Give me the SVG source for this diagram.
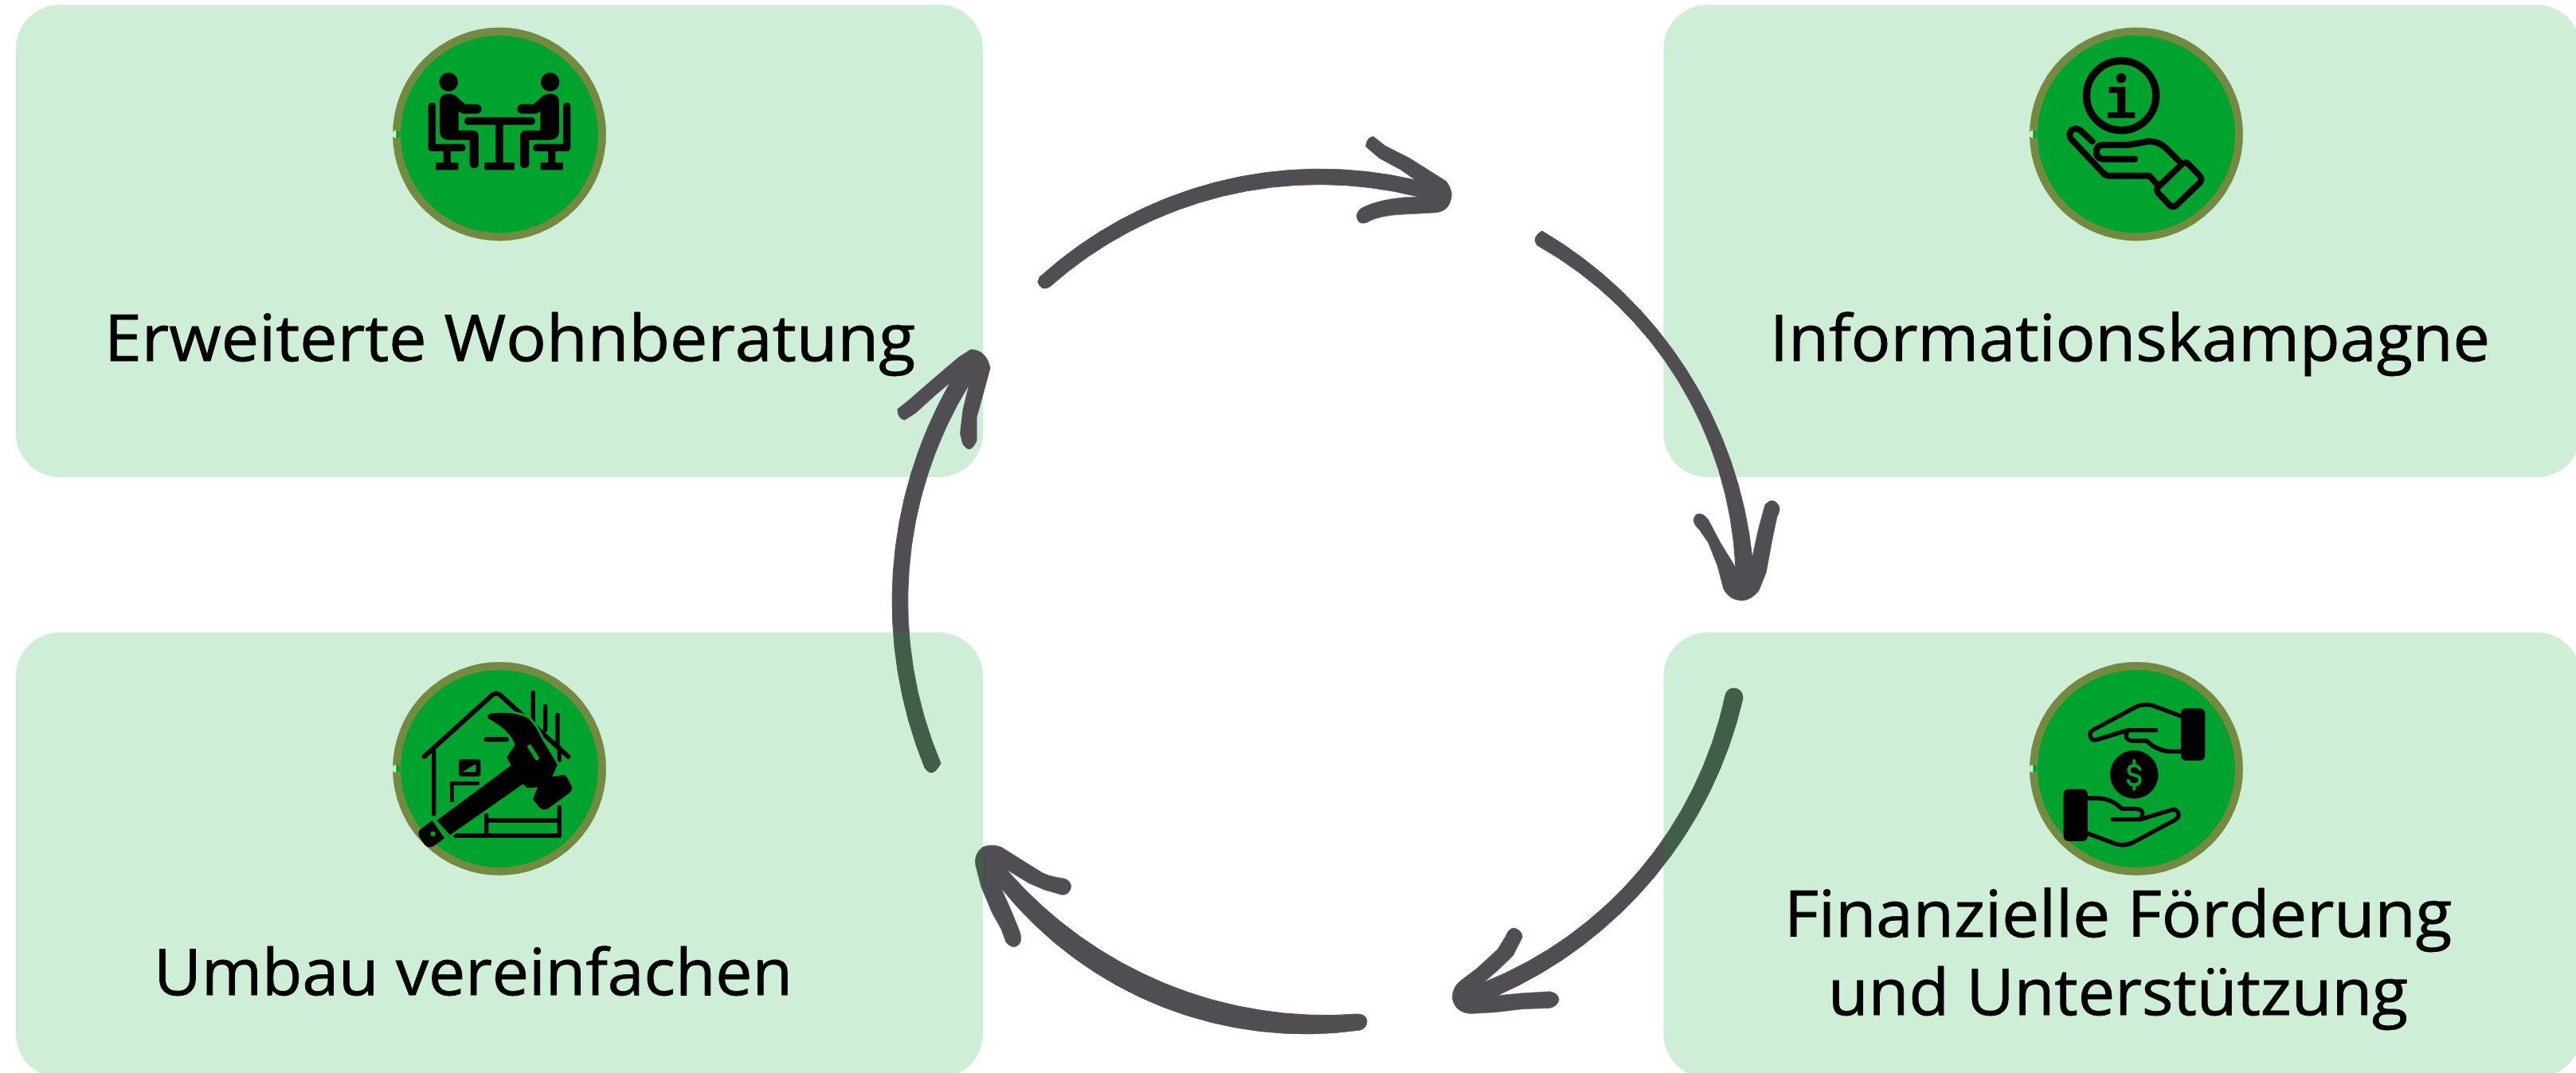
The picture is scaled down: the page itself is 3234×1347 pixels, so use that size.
<svg xmlns="http://www.w3.org/2000/svg" xmlns:xlink="http://www.w3.org/1999/xlink" width="3234" height="1347" viewBox="0 0 3234 1347">
<style>
.box{fill:#00A32D;fill-opacity:.19}
.lbl{font-family:"Open Sans","Noto Sans",sans-serif;font-size:80px;fill:#000;stroke:#000;stroke-width:.9px}
.ring{fill:#00A32D;stroke:#738A40;stroke-width:10}
.arrow{fill:#504E53;stroke:#504E53;stroke-width:1;stroke-linejoin:round}
.ink{fill:none;stroke:#000;stroke-linecap:round;stroke-linejoin:round}
.gr{fill:none;stroke:#00A32D;stroke-linecap:round;stroke-linejoin:round}
</style>
<defs>
<g id="badge">
<circle class="ring" r="129"/>
<path d="M-129.500 -5A5 5 0 0 0 -129.500 5Z" fill="#CFEDD6"/>
<path d="M-129.500 -5A5 5 0 0 1 -129.500 5Z" fill="#00A32D"/>
</g>
<g id="person">
<circle cx="310" cy="309" r="35"/>
<path d="M276 385Q276 353 310 353Q328 353 340 364L372 392H416A18 18 0 0 1 416 428H362Q352 426 347 418V491H400Q423 491 423 514V617A17 17 0 0 1 389 617V527H312Q276 527 276 491Z"/>
<path d="M247 400V556H360" fill="none" stroke="#000" stroke-width="28" stroke-linecap="round" stroke-linejoin="round"/>
<rect x="290" y="565" width="28" height="50"/>
<rect x="261" y="612" width="85" height="28"/>
</g>
<g id="cashHand">
<path class="ink" stroke-width="16" d="M716 298L610 258Q575 248 545 262L385 348Q365 360 375 378Q385 392 400 385L515 350H620"/>
<path class="ink" stroke-width="16" d="M515 350Q495 385 530 390H585Q625 430 680 430H716"/>
<rect x="714" y="268" width="91" height="196" rx="18"/>
</g>
</defs>

<g id="node-wohnberatung">
<rect class="box" x="20" y="6" width="1214" height="593" rx="55"/>
<use xlink:href="#badge" href="#badge" x="627" y="168.500"/>
<g transform="translate(460 0) scale(.33333)">
<use xlink:href="#person" href="#person"/>
<use xlink:href="#person" href="#person" transform="matrix(-1 0 0 1 1002 0)"/>
<path d="M382 456H622" fill="none" stroke="#000" stroke-width="28" stroke-linecap="round"/>
<rect x="487" y="460" width="28" height="155"/>
<rect x="445" y="612" width="113" height="28"/>
</g>
<text class="lbl" x="131" y="452.700" textLength="1018" lengthAdjust="spacingAndGlyphs">Erweiterte Wohnberatung</text>
</g>

<g id="node-information">
<rect class="box" x="2088.500" y="6" width="1151.500" height="593" rx="55"/>
<use xlink:href="#badge" href="#badge" x="2682" y="168.500"/>
<g transform="translate(2500 0) scale(.33333)">
<circle cx="489.500" cy="360" r="131" fill="none" stroke="#000" stroke-width="28"/>
<circle cx="489" cy="294" r="19"/>
<path d="M443 327H505V423H541V445H438V423H475V350H443Z"/>
<path class="ink" stroke-width="24" d="M380 532L337 492Q320 478 303 490Q288 505 302 525L415 645Q428 662 445 662H595L625 695"/>
<path class="ink" stroke-width="24" d="M540 599H420Q396 596 396 572Q396 546 422 546H510Q550 542 590 532Q630 532 660 560L705 605"/>
<rect x="-79" y="-48" width="158" height="97" rx="18" transform="translate(707 695) rotate(-44)" fill="#00A32D" stroke="#000" stroke-width="24"/>
</g>
<text class="lbl" x="2222" y="452.700" textLength="904" lengthAdjust="spacingAndGlyphs">Informationskampagne</text>
</g>

<g id="connectors">
<g id="arrow-top">
<path class="arrow" d="M1305 348A525 525 0 0 1 1777 226L1781 247A510 510 0 0 0 1318 360Q1307 366 1303 354Z"/>
<path class="arrow" transform="translate(1100 130) scale(.7653 .41454)" d="M885 232L860 200L825 165L803 130Q805 100 816 100L835 128L875 165L935 235Q950 270 940 305Q935 325 920 330L870 335Q825 338 805 360Q790 370 788 340Q790 320 800 313Q835 283 890 283Z"/>
</g>
<g id="arrow-right">
<path class="arrow" d="M1936 290A540 540 0 0 1 2200 702L2179 712A490 490 0 0 0 1930 308Q1922 298 1936 290Z"/>
<path class="arrow" transform="translate(1100 130) scale(.7653 .41454)" d="M1437 1375L1447 1290L1458 1215Q1470 1190 1480 1215Q1485 1230 1478 1250L1470 1320L1460 1420L1448 1475Q1435 1505 1420 1505Q1400 1505 1390 1470L1380 1400L1365 1330L1350 1290Q1335 1265 1345 1245Q1355 1235 1365 1260L1385 1330L1410 1405Z"/>
</g>
<g id="arrow-bottom-right">
<path class="arrow" d="M2166 873Q2168 864 2177 864Q2188 865 2188 877A540 540 0 0 1 1879 1250L1861 1234A500 500 0 0 0 2166 873Z"/>
<path class="arrow" transform="translate(1100 700) scale(.7653 .41272)" d="M1018 1332L1060 1325L1105 1320Q1120 1325 1120 1345Q1118 1365 1105 1370L1060 1373L1015 1383L975 1387Q950 1385 945 1340Q945 1305 960 1285L985 1250L1020 1190L1033 1150Q1038 1125 1048 1127Q1060 1135 1060 1155L1045 1210L1020 1255L995 1295Z"/>
</g>
<g id="arrow-bottom-left">
<path class="arrow" d="M1705 1273A530 530 0 0 1 1264 1092L1257 1115A490 490 0 0 0 1708 1293Q1716 1290 1716 1282Q1716 1274 1705 1273Z"/>
<path class="arrow" transform="translate(1100 700) scale(.7653 .41272)" d="M215 950L250 990L275 1010L305 1026Q318 1025 320 1000Q318 978 305 975Q280 970 265 950L205 880Q190 870 175 880Q160 900 163 935L172 1000L190 1080L205 1130L213 1170Q225 1195 235 1175Q240 1160 235 1135L222 1075L205 1005Z"/>
</g>
<g id="arrow-left">
<path class="arrow" d="M1161 964A555 555 0 0 1 1193 480L1217 482A520 520 0 0 0 1181 958Q1171 978 1161 964Z"/>
<path class="arrow" d="M1217 482L1209 515L1205.600 544L1208.700 557Q1218 572 1226 553L1226 524L1234 495L1243 462Q1238 439 1218.600 439L1203 449L1169 478L1138 505L1127 513.500Q1127 526 1136 527L1150 518L1173 497L1193 480Z"/>
</g>
</g>

<g id="node-foerderung">
<rect class="box" x="2088.500" y="794" width="1151.500" height="559" rx="55"/>
<use xlink:href="#badge" href="#badge" x="2682" y="965"/>
<g transform="translate(2500 800) scale(.33333)">
<use xlink:href="#cashHand" href="#cashHand"/>
<use xlink:href="#cashHand" href="#cashHand" transform="rotate(180 538.500 518)"/>
<circle cx="538" cy="517" r="91"/>
<path class="gr" stroke-width="12" d="M560 497Q552 483 538 483Q518 483 518 502Q518 517 538 519Q560 522 560 538Q560 556 538 556Q520 556 516 540M538 465V480M538 558V572"/>
</g>
<text class="lbl" x="2240" y="1176" textLength="838" lengthAdjust="spacingAndGlyphs">Finanzielle Förderung</text>
<text class="lbl" x="2295" y="1274" textLength="728" lengthAdjust="spacingAndGlyphs">und Unterstützung</text>
</g>

<g id="node-umbau">
<rect class="box" x="20" y="794" width="1214" height="559" rx="55"/>
<use xlink:href="#badge" href="#badge" x="627" y="965"/>
<g transform="translate(460 800) scale(.33333)">
<path class="ink" stroke-width="18" d="M218 449L475 217Q488 206 503 217L760 449"/>
<path class="ink" stroke-width="16" d="M254 430V665M628 208V320M674 260V350M720 292V415M727 415V462M727 640V747H335M452 670V740M452 690H727"/>
<rect x="348" y="460" width="82" height="64" rx="10"/>
<path d="M362 507L412 478V507Z" fill="#00A32D"/>
<path d="M322 620V550H425" fill="none" stroke="#000" stroke-width="14"/>
<path class="ink" stroke-width="18" d="M452 385H528"/>
<path id="hammer-halo" d="M265 690L545 482L528 452L560 405Q540 350 460 307Q450 295 465 288Q550 275 610 305Q640 335 660 380L720 480L700 525L745 518Q755 520 775 565Q775 580 760 590L685 645Q665 655 650 640L627 610L645 565L605 568L590 553L315 745Z" fill="#000" stroke="#00A32D" stroke-width="16" stroke-linejoin="round" paint-order="stroke"/>
<path d="M248 690L205 722Q190 735 200 752L220 782Q235 797 255 785L295 757Z"/>
<circle cx="251" cy="740" r="9" fill="#00A32D"/>
<path class="gr" stroke-width="16" d="M615 412L642 455"/>
</g>
<text class="lbl" x="193" y="1249" textLength="802" lengthAdjust="spacingAndGlyphs">Umbau vereinfachen</text>
</g>
</svg>
